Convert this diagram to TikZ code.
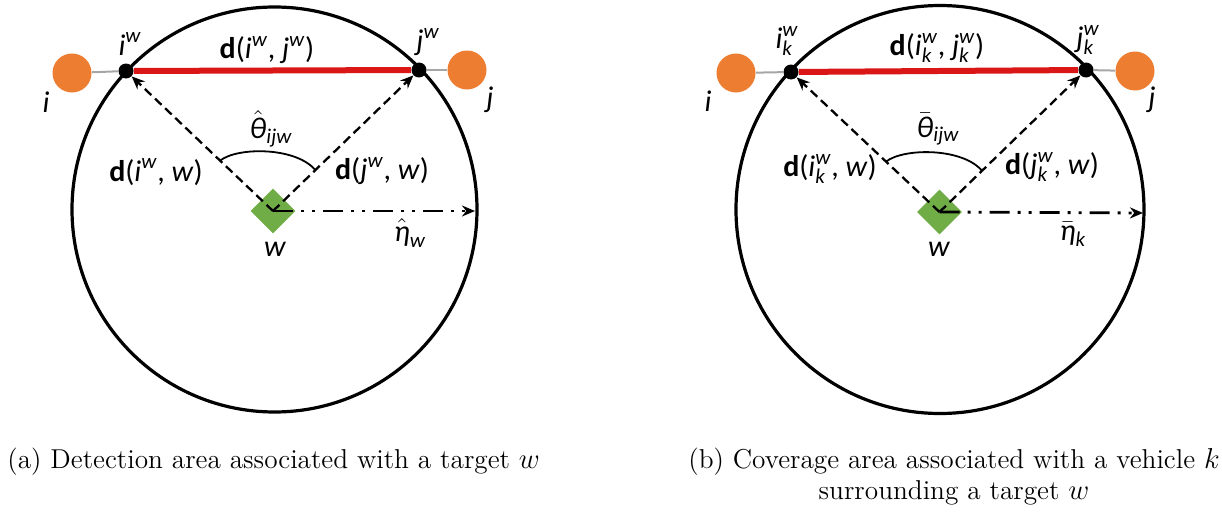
\documentclass[tikz,border=0pt]{standalone}
\usepackage{amsmath}
\usepackage{fontspec}
\newfontfamily\carl{Carlito}
\usetikzlibrary{arrows.meta,shapes.geometric,calc}
\definecolor{myorange}{RGB}{237,125,49}
\definecolor{mygreen}{RGB}{112,173,71}
\definecolor{myred}{RGB}{218,22,22}
\newcommand{\ti}[1]{\textit{#1}}
\begin{document}
\begin{tikzpicture}[x=0.5pt,y=-0.5pt,
  bigcirc/.style={draw=black,line width=1.6pt},
  wnode/.style={diamond,fill=mygreen,inner sep=0pt,minimum width=22.5pt,minimum height=22.5pt},
  dotn/.style={circle,fill=black,inner sep=0pt,minimum size=7.5pt},
  orng/.style={circle,fill=myorange,inner sep=0pt,minimum size=19.5pt},
  grayl/.style={draw=black!35,line width=1pt},
  chord/.style={draw=myred,line width=3pt},
  darr/.style={draw=black,line width=1.15pt,dash pattern=on 4.5pt off 2.5pt,-{Stealth[length=6.5pt,width=5.5pt]}},
  rarr/.style={draw=black,line width=1.4pt,dash pattern=on 10pt off 4pt on 1.5pt off 4pt on 1.5pt off 4pt,-{Stealth[length=6.5pt,width=5.5pt]}},
  anglearc/.style={draw=black,line width=0.9pt},
  lbl/.style={font=\carl\fontsize{15}{17}\selectfont,inner sep=0pt},
  captxt/.style={font=\fontsize{13.65}{15.5}\selectfont,inner sep=0pt}
]
\useasboundingbox (0,0) rectangle (1222,514);

% ---------------- (a) ----------------
\coordinate (Oa) at (274.5,209.5);
\draw[bigcirc] (Oa) circle [radius=202.5];
\node[wnode] (wa) at (273,211) {};
\node[orng] (ia) at (72,73) {};
\node[orng] (ja) at (467,70) {};
\node[dotn] (iwa) at (126,71) {};
\node[dotn] (jwa) at (419,70) {};
\draw[grayl] (ia) -- (iwa);
\draw[grayl] (jwa) -- (ja);
\draw[chord] (iwa) -- (jwa);
\coordinate (ea) at (475,211);
\draw[darr] (wa.center) -- (iwa);
\draw[darr] (wa.center) -- (jwa);
\draw[rarr] (wa.center) -- (ea);
\coordinate (a1) at ($(wa.center)!0.36!(iwa)$);
\coordinate (a2) at ($(wa.center)!0.29!(jwa)$);
\draw[anglearc] (a1) .. controls +(18,-14) and +(-19,-23) .. (a2);

\node[lbl] (lia) at (46,102) {\ti{i}};
\node[lbl] (lja) at (490,100) {\ti{j}};
\node[lbl] (liwa) at (130,44) {$\ti{i}^{\ti{w}}$};
\node[lbl] (ljwa) at (428,42) {$\ti{j}^{\ti{w}}$};
\node[lbl] (ldij) at (267,50) {\textbf{d}($\ti{i}^{\ti{w}}$, $\ti{j}^{\ti{w}}$)};
\node[lbl] (lth) at (271,129) {$\hat{\ti{θ}}_{\ti{ijw}}$};
\node[lbl] (ldiw) at (156,172) {\textbf{d}($\ti{i}^{\ti{w}}$, \ti{w})};
\node[lbl] (ldjw) at (382,171) {\textbf{d}($\ti{j}^{\ti{w}}$, \ti{w})};
\node[lbl] (lwa) at (275,249) {\ti{w}};
\node[lbl] (leta) at (410,233) {$\hat{\ti{η}}_{\ti{w}}$};

% ---------------- (b) ----------------
\coordinate (Ob) at (940,209.5);
\draw[bigcirc] (Ob) circle [radius=204];
\node[wnode] (wb) at (939.5,212) {};
\node[orng] (ib) at (736,73) {};
\node[orng] (jb) at (1135,71) {};
\node[dotn] (iwb) at (791,72) {};
\node[dotn] (jwb) at (1086,70) {};
\draw[grayl] (ib) -- (iwb);
\draw[grayl] (jwb) -- (jb);
\draw[chord] (iwb) -- (jwb);
\coordinate (eb) at (1143,213);
\draw[darr] (wb.center) -- (iwb);
\draw[darr] (wb.center) -- (jwb);
\draw[rarr] (wb.center) -- (eb);
\coordinate (b1) at ($(wb.center)!0.36!(iwb)$);
\coordinate (b2) at ($(wb.center)!0.29!(jwb)$);
\draw[anglearc] (b1) .. controls +(18,-14) and +(-19,-23) .. (b2);

\node[lbl] (lib) at (708,101) {\ti{i}};
\node[lbl] (ljb) at (1152,100) {\ti{j}};
\node[lbl] (liwb) at (787,41) {$\ti{i}^{\ti{w}}_{\ti{k}}$};
\node[lbl] (ljwb) at (1088,40) {$\ti{j}^{\ti{w}}_{\ti{k}}$};
\node[lbl] (ldijb) at (937,48) {\textbf{d}($\ti{i}^{\ti{w}}_{\ti{k}}$, $\ti{j}^{\ti{w}}_{\ti{k}}$)};
\node[lbl] (lthb) at (938,129) {$\bar{\ti{θ}}_{\ti{ijw}}$};
\node[lbl] (ldiwb) at (830,169) {\textbf{d}($\ti{i}^{\ti{w}}_{\ti{k}}$, \ti{w})};
\node[lbl] (ldjwb) at (1052,167) {\textbf{d}($\ti{j}^{\ti{w}}_{\ti{k}}$, \ti{w})};
\node[lbl] (lwb) at (939,249) {\ti{w}};
\node[lbl] (letab) at (1073,234) {$\bar{\ti{η}}_{\ti{k}}$};

% ---------------- captions ----------------
\node[captxt,anchor=west] (capa) at (7,462) {(a) Detection area associated with a target $w$};
\node[captxt,align=center] (capb) at (954,477) {(b) Coverage area associated with a vehicle $k$\\surrounding a target $w$};
\end{tikzpicture}
\end{document}
